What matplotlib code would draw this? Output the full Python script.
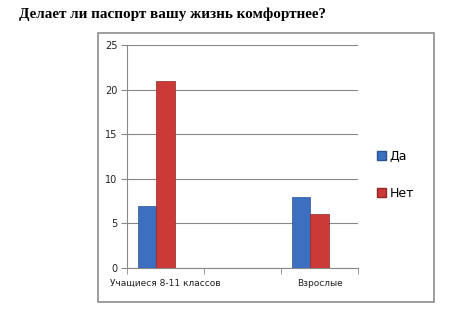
import matplotlib.pyplot as plt
import numpy as np
from matplotlib.patches import Rectangle, Patch

categories = ['Учащиеся 8-11 классов', '', 'Взрослые']
da = [7, np.nan, 8]
net = [21, np.nan, 6]

fig = plt.figure(figsize=(4.72, 3.15), dpi=100)
fig.patch.set_facecolor('white')

# outer chart frame
fig.patches.append(Rectangle((98/472, 1-302/315), 336/472, 269/315, transform=fig.transFigure,
                             fill=False, edgecolor='#8c8c8c', linewidth=1.2))

fig.text(19/472, 1-14/315, 'Делает ли паспорт вашу жизнь комфортнее?', fontsize=10.9,
         fontweight='bold', family='Liberation Serif', va='center', ha='left')

ax = fig.add_axes([127/472, 1-268/315, 231/472, 223/315])
x = np.arange(len(categories))
w = 0.234
ax.bar(x - w, da, width=w, color='#3c6fc0', edgecolor='#2a528f', linewidth=0.5, zorder=3)
ax.bar(x, net, width=w, color='#cc3a38', edgecolor='#8f2826', linewidth=0.5, zorder=3)

ax.set_xlim(-0.5, 2.5)
ax.set_ylim(0, 25)
ax.set_yticks(range(0, 26, 5))
ax.set_xticks(x)
ax.set_xticklabels(categories, fontsize=6.5, color='#222222')
ax.set_xticks([-0.5, 0.5, 1.5, 2.5], minor=True)
ax.tick_params(axis='x', which='major', length=0, pad=8)
ax.tick_params(axis='x', which='minor', length=4, color='#888888', direction='out')
ax.tick_params(axis='y', labelsize=7, labelcolor='#222222', length=4, color='#888888', pad=3)
ax.grid(axis='y', color='#888888', linewidth=0.8, zorder=0)
for s in ['top', 'right']:
    ax.spines[s].set_visible(False)
for s in ['left', 'bottom']:
    ax.spines[s].set_color('#888888')

handles = [Patch(facecolor='#3c6fc0', edgecolor='#2a528f'),
           Patch(facecolor='#cc3a38', edgecolor='#8f2826')]
fig.legend(handles, ['Да', 'Нет'], loc='center left', bbox_to_anchor=(366/472, 1-175/315),
           frameon=False, fontsize=9, handlelength=0.7, handleheight=0.7,
           handletextpad=0.3, labelspacing=1.9)

fig.savefig('out.png', dpi=100)
